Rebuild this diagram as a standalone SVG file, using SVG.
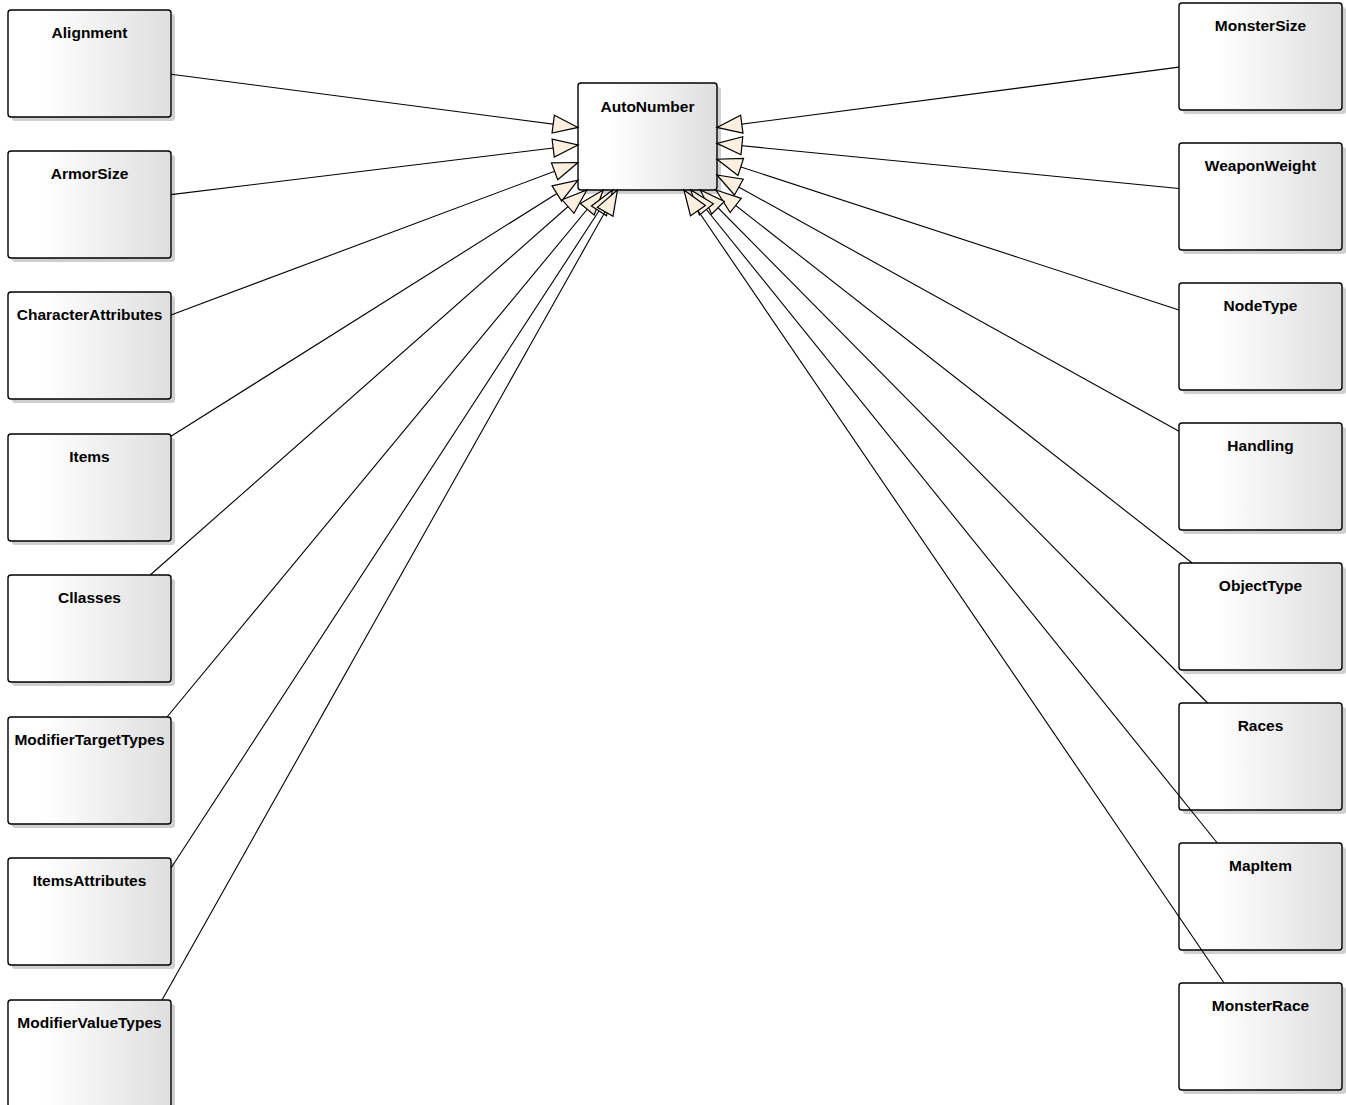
<svg xmlns="http://www.w3.org/2000/svg" width="1346" height="1105" viewBox="0 0 1346 1105">
<defs>
<linearGradient id="g" x1="0" y1="0" x2="1" y2="0">
<stop offset="0" stop-color="#FFFFFF"/>
<stop offset="0.22" stop-color="#FFFFFF"/>
<stop offset="1" stop-color="#DEDEDE"/>
</linearGradient>
<marker id="gen" markerUnits="userSpaceOnUse" markerWidth="28" markerHeight="22" viewBox="0 0 28 22" refX="26" refY="11" orient="auto">
<path d="M1,2 L26,11 L1,20 Z" fill="#FBF0E0" stroke="#000" stroke-width="1.2" stroke-linejoin="miter"/>
</marker>
<style>
.sh{fill:#CFCFCF;}
.bx{fill:url(#g);stroke:#000;stroke-width:1.4;}
.t{font-family:"Liberation Sans",Arial,sans-serif;font-weight:bold;font-size:15.5px;fill:#000;text-anchor:middle;}
.c{stroke:#000;stroke-width:1.1;fill:none;marker-end:url(#gen);}
</style>
</defs>
<rect width="1346" height="1105" fill="#FFFFFF"/>
<g id="nodes">
<g id="AutoNumber"><rect class="sh" x="582" y="87" width="139" height="107" rx="3"/><rect class="bx" x="578" y="83" width="139" height="107" rx="3"/><text class="t" x="647.5" y="111.5">AutoNumber</text></g>
<g id="Alignment"><rect class="sh" x="12" y="14" width="163" height="107" rx="3"/><rect class="bx" x="8" y="10" width="163" height="107" rx="3"/><text class="t" x="89.5" y="38">Alignment</text></g>
<g id="ArmorSize"><rect class="sh" x="12" y="155" width="163" height="107" rx="3"/><rect class="bx" x="8" y="151" width="163" height="107" rx="3"/><text class="t" x="89.5" y="179">ArmorSize</text></g>
<g id="CharacterAttributes"><rect class="sh" x="12" y="296" width="163" height="107" rx="3"/><rect class="bx" x="8" y="292" width="163" height="107" rx="3"/><text class="t" x="89.5" y="320">CharacterAttributes</text></g>
<g id="Items"><rect class="sh" x="12" y="438" width="163" height="107" rx="3"/><rect class="bx" x="8" y="434" width="163" height="107" rx="3"/><text class="t" x="89.5" y="462">Items</text></g>
<g id="Cllasses"><rect class="sh" x="12" y="579" width="163" height="107" rx="3"/><rect class="bx" x="8" y="575" width="163" height="107" rx="3"/><text class="t" x="89.5" y="603">Cllasses</text></g>
<g id="ModifierTargetTypes"><rect class="sh" x="12" y="721" width="163" height="107" rx="3"/><rect class="bx" x="8" y="717" width="163" height="107" rx="3"/><text class="t" x="89.5" y="745">ModifierTargetTypes</text></g>
<g id="ItemsAttributes"><rect class="sh" x="12" y="862" width="163" height="107" rx="3"/><rect class="bx" x="8" y="858" width="163" height="107" rx="3"/><text class="t" x="89.5" y="886">ItemsAttributes</text></g>
<g id="ModifierValueTypes"><rect class="sh" x="12" y="1004" width="163" height="107" rx="3"/><rect class="bx" x="8" y="1000" width="163" height="107" rx="3"/><text class="t" x="89.5" y="1028">ModifierValueTypes</text></g>
<g id="MonsterSize"><rect class="sh" x="1183" y="7" width="163" height="107" rx="3"/><rect class="bx" x="1179" y="3" width="163" height="107" rx="3"/><text class="t" x="1260.5" y="31">MonsterSize</text></g>
<g id="WeaponWeight"><rect class="sh" x="1183" y="147" width="163" height="107" rx="3"/><rect class="bx" x="1179" y="143" width="163" height="107" rx="3"/><text class="t" x="1260.5" y="171">WeaponWeight</text></g>
<g id="NodeType"><rect class="sh" x="1183" y="287" width="163" height="107" rx="3"/><rect class="bx" x="1179" y="283" width="163" height="107" rx="3"/><text class="t" x="1260.5" y="311">NodeType</text></g>
<g id="Handling"><rect class="sh" x="1183" y="427" width="163" height="107" rx="3"/><rect class="bx" x="1179" y="423" width="163" height="107" rx="3"/><text class="t" x="1260.5" y="451">Handling</text></g>
<g id="ObjectType"><rect class="sh" x="1183" y="567" width="163" height="107" rx="3"/><rect class="bx" x="1179" y="563" width="163" height="107" rx="3"/><text class="t" x="1260.5" y="591">ObjectType</text></g>
<g id="Races"><rect class="sh" x="1183" y="707" width="163" height="107" rx="3"/><rect class="bx" x="1179" y="703" width="163" height="107" rx="3"/><text class="t" x="1260.5" y="731">Races</text></g>
<g id="MapItem"><rect class="sh" x="1183" y="847" width="163" height="107" rx="3"/><rect class="bx" x="1179" y="843" width="163" height="107" rx="3"/><text class="t" x="1260.5" y="871">MapItem</text></g>
<g id="MonsterRace"><rect class="sh" x="1183" y="987" width="163" height="107" rx="3"/><rect class="bx" x="1179" y="983" width="163" height="107" rx="3"/><text class="t" x="1260.5" y="1011">MonsterRace</text></g>
</g>
<g id="connectors">
<line class="c" x1="171" y1="74.2" x2="578" y2="127.4"/>
<line class="c" x1="171" y1="194.6" x2="578" y2="145"/>
<line class="c" x1="171" y1="315" x2="578" y2="162.5"/>
<line class="c" x1="171" y1="436.2" x2="578" y2="180.2"/>
<line class="c" x1="150.2" y1="575" x2="586.8" y2="190"/>
<line class="c" x1="167" y1="717" x2="603.2" y2="190"/>
<line class="c" x1="171" y1="868" x2="612.6" y2="190"/>
<line class="c" x1="162" y1="1000" x2="617.4" y2="190"/>
<line class="c" x1="1179" y1="67.1" x2="717" y2="127.4"/>
<line class="c" x1="1179" y1="188.5" x2="717" y2="143.3"/>
<line class="c" x1="1179" y1="309.9" x2="717" y2="159.2"/>
<line class="c" x1="1179" y1="431.3" x2="717" y2="175"/>
<line class="c" x1="1192.2" y1="563" x2="716" y2="190"/>
<line class="c" x1="1207.6" y1="703" x2="700.4" y2="190"/>
<line class="c" x1="1217.3" y1="843" x2="690.7" y2="190"/>
<line class="c" x1="1224.1" y1="983" x2="683.9" y2="190"/>
</g>
</svg>
